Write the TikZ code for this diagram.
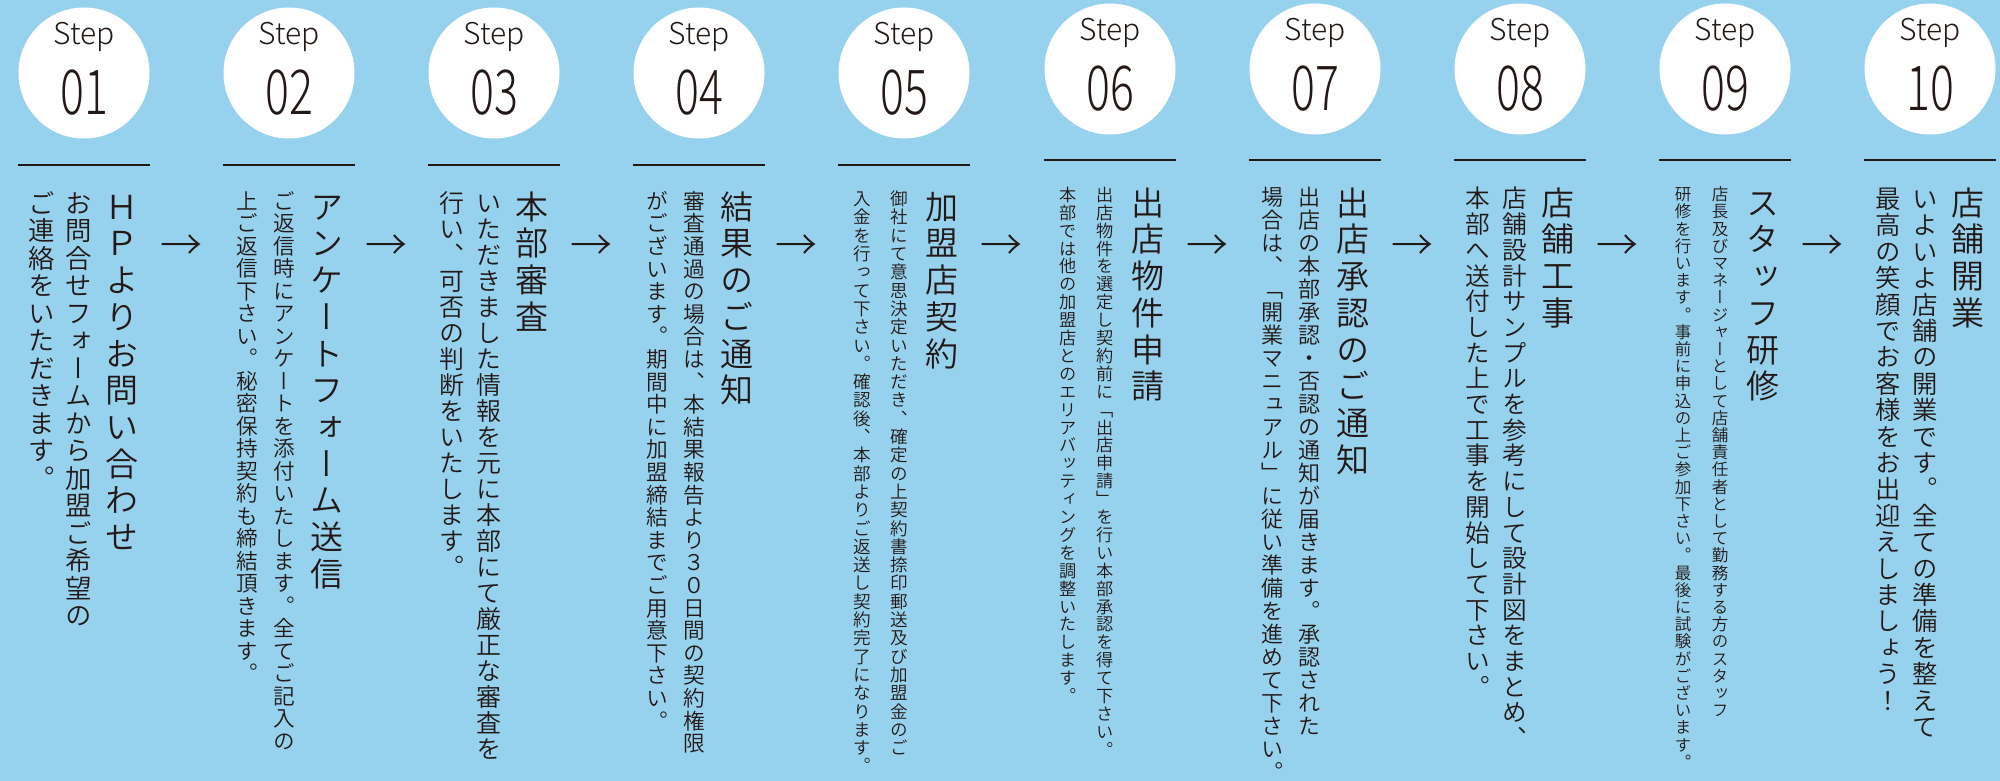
\documentclass[tikz,border=0pt]{standalone}
\usepackage{fontspec}
\usepackage{tikz}
\newfontfamily\jpFont{Noto Sans CJK JP}[UprightFont={* DemiLight}, RawFeature=+vert]
\newfontfamily\stepFont{Noto Sans CJK JP}[UprightFont={* Light}]
\definecolor{skyColor}{RGB}{150,210,238}
\definecolor{inkColor}{RGB}{35,24,21}
\tikzstyle{stepCircle} = [circle, fill=white, minimum size=131pt, inner sep=0pt]
\tikzstyle{stepLabel} = [font=\stepFont\fontsize{30}{30}\selectfont, text=inkColor, inner sep=0pt, anchor=base]
\tikzstyle{stepNumber} = [font=\stepFont\fontsize{62}{62}\selectfont, text=inkColor, inner sep=0pt, anchor=base]
\tikzstyle{stepRule} = [color=inkColor, line width=2.6pt]
\tikzstyle{titleText} = [font=\jpFont\fontsize{33}{33}\selectfont, text=inkColor, inner sep=0pt, anchor=north]
\tikzstyle{bodyText} = [text=inkColor, inner sep=0pt, anchor=north]
\tikzstyle{arrowText} = [font=\stepFont\fontsize{42}{42}\selectfont, text=inkColor, inner sep=0pt]
\newlength{\tateGap}
\makeatletter
\newcommand{\tateText}[1]{\vbox{\offinterlineskip\tate@loop#1\@nil}}
\def\tate@loop#1{\ifx#1\@nil\else\tate@char{#1}\expandafter\tate@loop\fi}
\def\tate@char#1{\hbox to 1em{\vrule width 0pt height .88em depth .12em\hss#1\hss}\vskip\tateGap}
\makeatother
% id, x, circle y, rule y, text top, body pitch, title, first column, second column
\newcommand{\stepBlock}[9]{
  \pgfmathsetmacro{\bodySize}{#6*0.96}
  \pgfmathsetmacro{\bodyGap}{#6-\bodySize}
  \node [stepCircle] (circle#1) at (#2, #3) {};
  \node [stepLabel] (label#1) at (#2, #3-28) {Step};
  \node [stepNumber] (number#1) at (#2, #3+42) {\scalebox{.72}[1]{#1}};
  \draw [stepRule] (#2-66, #4) -- (#2+66, #4);
  \node [titleText] (title#1) at (#2+38, #5) {\setlength{\tateGap}{3.7pt}\tateText{#7}};
  \node [bodyText] (bodyA#1) at (#2-5, #5) {\jpFont\fontsize{\bodySize}{\bodySize}\selectfont\setlength{\tateGap}{\bodyGap pt}\tateText{#8}};
  \node [bodyText] (bodyB#1) at (#2-42, #5) {\jpFont\fontsize{\bodySize}{\bodySize}\selectfont\setlength{\tateGap}{\bodyGap pt}\tateText{#9}};
}

\begin{document}
\begin{tikzpicture}[x=1pt, y=-1pt]
\useasboundingbox (0,0) rectangle (2000,781);
\fill [skyColor] (0,0) rectangle (2000,781);
\stepBlock{01}{84}{73}{165}{190}{27.5}{ＨＰよりお問い合わせ}{お問合せフォームから加盟ご希望の}{ご連絡をいただきます。}
\stepBlock{02}{289}{73}{165}{190}{22.5}{アンケートフォーム送信}{ご返信時にアンケートを添付いたします。全てご記入の}{上ご返信下さい。秘密保持契約も締結頂きます。}
\stepBlock{03}{494}{73}{165}{190}{26}{本部審査}{いただきました情報を元に本部にて厳正な審査を}{行い、可否の判断をいたします。}
\stepBlock{04}{699}{73}{165}{190}{22.6}{結果のご通知}{審査通過の場合は、本結果報告より３０日間の契約権限}{がございます。期間中に加盟締結までご用意下さい。}
\stepBlock{05}{904}{73}{165}{190}{18.3}{加盟店契約}{御社にて意思決定いただき、確定の上契約書捺印郵送及び加盟金のご}{入金を行って下さい。確認後、本部よりご返送し契約完了になります。}
\stepBlock{06}{1110}{69}{160}{186}{17.9}{出店物件申請}{出店物件を選定し契約前に「出店申請」を行い本部承認を得て下さい。}{本部では他の加盟店とのエリアバッティングを調整いたします。}
\stepBlock{07}{1315}{69}{160}{186}{23}{出店承認のご通知}{出店の本部承認・否認の通知が届きます。承認された}{場合は、「開業マニュアル」に従い準備を進めて下さい。}
\stepBlock{08}{1520}{69}{160}{186}{25.7}{店舗工事}{店舗設計サンプルを参考にして設計図をまとめ、}{本部へ送付した上で工事を開始して下さい。}
\stepBlock{09}{1725}{69}{160}{186}{17.2}{スタッフ研修}{店長及びマネージャーとして店舗責任者として勤務する方のスタッフ}{研修を行います。事前に申込の上ご参加下さい。最後に試験がございます。}
\stepBlock{10}{1930}{69}{160}{186}{26.4}{店舗開業}{いよいよ店舗の開業です。全ての準備を整えて}{最高の笑顔でお客様をお出迎えしましょう！}
\foreach \i/\x in {01/181, 02/386, 03/591, 04/796, 05/1001, 06/1207, 07/1412, 08/1617, 09/1822}
  \node [arrowText] (arrow\i) at (\x, 248) {→};
\end{tikzpicture}
\end{document}
